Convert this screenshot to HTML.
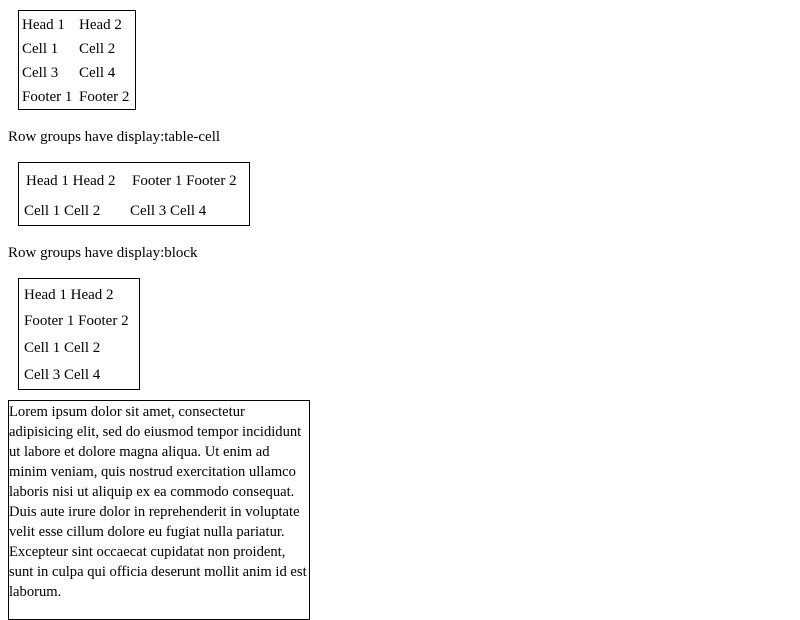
<!DOCTYPE html>
<html><head><style>
body{margin:0;width:800px;height:600px;overflow:hidden;background:#fff;font-family:"Liberation Serif",serif;font-size:15px;color:#000;position:relative}
.a{position:absolute;white-space:nowrap;line-height:20px}
.b{position:absolute;border:1px solid #000;box-sizing:border-box}
.l{font-size:14.6px}
</style></head><body>
<div class="b" style="left:18px;top:10px;width:118px;height:100px"></div>
<div class="a" style="left:22px;top:15px">Head 1</div><div class="a" style="left:79px;top:15px">Head 2</div>
<div class="a" style="left:22px;top:39px">Cell 1</div><div class="a" style="left:79px;top:39px">Cell 2</div>
<div class="a" style="left:22px;top:63px">Cell 3</div><div class="a" style="left:79px;top:63px">Cell 4</div>
<div class="a" style="left:22px;top:87px">Footer 1</div><div class="a" style="left:79px;top:87px">Footer 2</div>
<div class="a" style="left:8px;top:127px">Row groups have display:table-cell</div>
<div class="b" style="left:18px;top:162px;width:232px;height:64px"></div>
<div class="a" style="left:26px;top:171px">Head 1 Head 2</div><div class="a" style="left:132px;top:171px">Footer 1 Footer 2</div>
<div class="a" style="left:24px;top:201px">Cell 1 Cell 2</div><div class="a" style="left:130px;top:201px">Cell 3 Cell 4</div>
<div class="a" style="left:8px;top:243px">Row groups have display:block</div>
<div class="b" style="left:18px;top:278px;width:122px;height:112px"></div>
<div class="a" style="left:24px;top:285px">Head 1 Head 2</div>
<div class="a" style="left:24px;top:311px">Footer 1 Footer 2</div>
<div class="a" style="left:24px;top:338px">Cell 1 Cell 2</div>
<div class="a" style="left:24px;top:365px">Cell 3 Cell 4</div>
<div class="b" style="left:8px;top:400px;width:302px;height:220px"></div>
<div class="a l" style="left:9px;top:402px">Lorem ipsum dolor sit amet, consectetur</div>
<div class="a l" style="left:9px;top:422px">adipisicing elit, sed do eiusmod tempor incididunt</div>
<div class="a l" style="left:9px;top:442px">ut labore et dolore magna aliqua. Ut enim ad</div>
<div class="a l" style="left:9px;top:462px">minim veniam, quis nostrud exercitation ullamco</div>
<div class="a l" style="left:9px;top:482px">laboris nisi ut aliquip ex ea commodo consequat.</div>
<div class="a l" style="left:9px;top:502px">Duis aute irure dolor in reprehenderit in voluptate</div>
<div class="a l" style="left:9px;top:522px">velit esse cillum dolore eu fugiat nulla pariatur.</div>
<div class="a l" style="left:9px;top:542px">Excepteur sint occaecat cupidatat non proident,</div>
<div class="a l" style="left:9px;top:562px">sunt in culpa qui officia deserunt mollit anim id est</div>
<div class="a l" style="left:9px;top:582px">laborum.</div>
</body></html>
